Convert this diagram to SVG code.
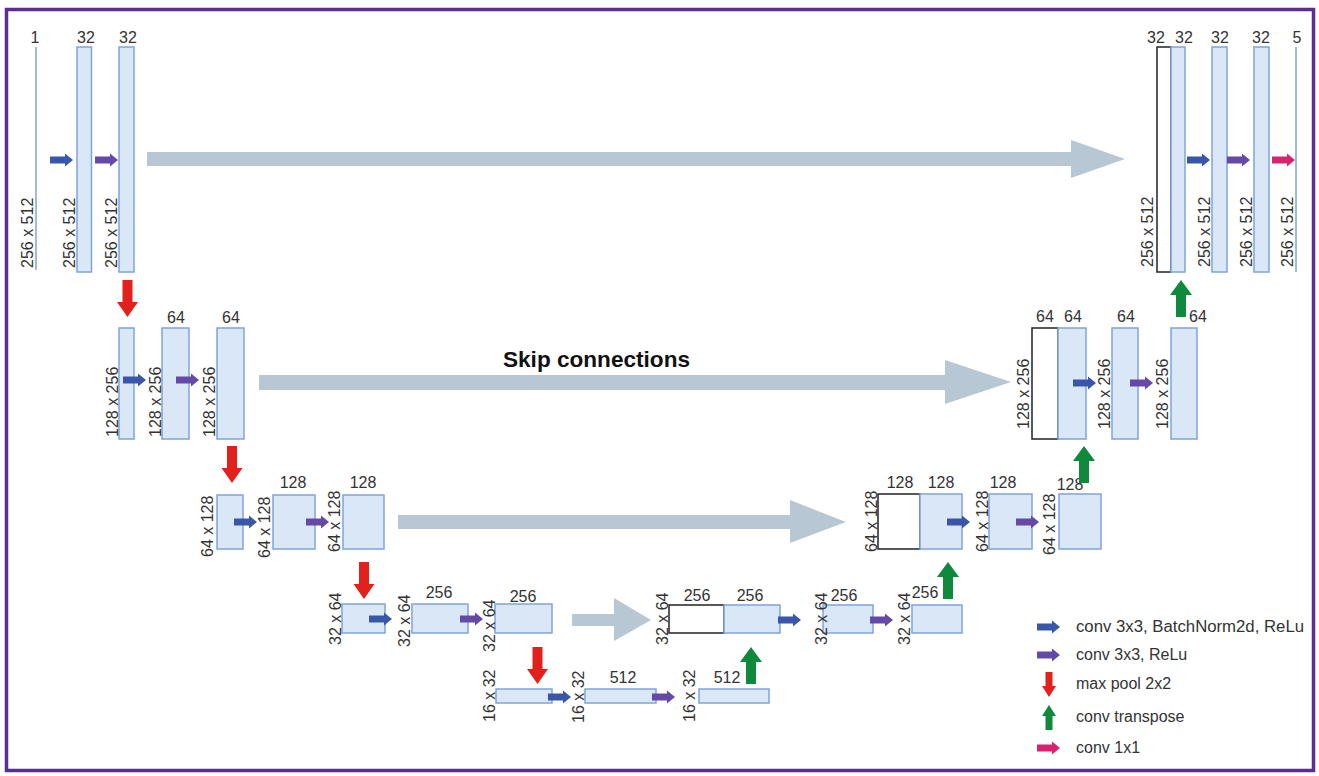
<svg xmlns="http://www.w3.org/2000/svg" xmlns:xlink="http://www.w3.org/1999/xlink" width="1319" height="776" viewBox="0 0 1319 776">
<style>
.t{font-family:"Liberation Sans",Arial,sans-serif;font-size:16px;fill:#333}
.m{text-anchor:middle}
.b{fill:#dae7f6;stroke:#7fa4d9;stroke-width:1.5}
.k{fill:#fff;stroke:#222;stroke-width:1.5}
.ln{stroke:#7fa4d9;stroke-width:1.5;fill:none}
.skip{fill:#b8c7d4}
.lg{font-family:"Liberation Sans",Arial,sans-serif;font-size:16px;fill:#333}
</style>
<defs>
<path id="ah" d="M0,-3.5 H15 V-6.5 L23,0 L15,6.5 V3.5 H0 Z"/>
<path id="ad" d="M-5,0 H5 V22 H10.5 L0,37 L-10.5,22 H-5 Z" fill="#e2211c"/>
<path id="au" d="M0,0 L11,15 H5 V37 H-5 V15 H-11 Z" fill="#0f8a3c"/>
</defs>
<rect x="6.5" y="9.5" width="1307" height="761" fill="#fff" stroke="#5b2d8e" stroke-width="3.5"/>

<g id="enc1">
<line class="ln" x1="36" y1="47" x2="36" y2="270"/>
<rect class="b" x="77" y="47" width="14.5" height="225"/>
<rect class="b" x="119" y="47" width="15" height="225"/>
<text class="t m" x="35" y="43">1</text>
<text class="t m" x="86" y="43">32</text>
<text class="t m" x="128" y="43">32</text>
<text class="t" transform="translate(33,268) rotate(-90)">256 x 512</text>
<text class="t" transform="translate(75,268) rotate(-90)">256 x 512</text>
<text class="t" transform="translate(117,268) rotate(-90)">256 x 512</text>
</g>

<g id="enc2">
<rect class="b" x="119" y="328" width="15" height="111"/>
<rect class="b" x="162" y="328" width="27" height="111"/>
<rect class="b" x="217" y="328" width="27" height="111"/>
<text class="t m" x="176" y="323">64</text>
<text class="t m" x="231" y="323">64</text>
<text class="t" transform="translate(118,437) rotate(-90)">128 x 256</text>
<text class="t" transform="translate(161,437) rotate(-90)">128 x 256</text>
<text class="t" transform="translate(215,437) rotate(-90)">128 x 256</text>
</g>

<g id="enc3">
<rect class="b" x="217" y="495" width="26" height="54"/>
<rect class="b" x="273" y="495" width="42" height="54"/>
<rect class="b" x="343" y="495" width="41" height="54"/>
<text class="t m" x="293" y="488">128</text>
<text class="t m" x="363" y="488">128</text>
<text class="t" transform="translate(213,557) rotate(-90)">64 x 128</text>
<text class="t" transform="translate(270,558) rotate(-90)">64 x 128</text>
<text class="t" transform="translate(340,552) rotate(-90)">64 x 128</text>
</g>

<g id="enc4">
<rect class="b" x="342" y="604" width="43" height="29"/>
<rect class="b" x="412" y="604" width="56" height="29"/>
<rect class="b" x="495" y="604" width="57" height="29"/>
<text class="t m" x="439" y="598">256</text>
<text class="t m" x="523" y="602">256</text>
<text class="t" transform="translate(341,645) rotate(-90)">32 x 64</text>
<text class="t" transform="translate(410,647) rotate(-90)">32 x 64</text>
<text class="t" transform="translate(495,652) rotate(-90)">32 x 64</text>
</g>

<g id="bottleneck">
<rect class="b" x="496" y="689" width="56" height="14"/>
<rect class="b" x="585" y="689" width="71" height="14"/>
<rect class="b" x="699" y="689" width="70" height="14"/>
<text class="t m" x="623" y="683">512</text>
<text class="t m" x="727" y="683">512</text>
<text class="t" transform="translate(495,722) rotate(-90)">16 x 32</text>
<text class="t" transform="translate(584,723) rotate(-90)">16 x 32</text>
<text class="t" transform="translate(695,722) rotate(-90)">16 x 32</text>
</g>

<g id="dec4">
<rect class="k" x="669" y="605" width="55" height="28"/>
<rect class="b" x="724" y="605" width="56" height="28"/>
<rect class="b" x="823" y="605" width="50" height="28"/>
<rect class="b" x="912" y="605" width="50" height="28"/>
<text class="t m" x="697" y="601">256</text>
<text class="t m" x="750" y="601">256</text>
<text class="t m" x="844" y="601">256</text>
<text class="t m" x="925" y="598">256</text>
<text class="t" transform="translate(668,645) rotate(-90)">32 x 64</text>
<text class="t" transform="translate(827,645) rotate(-90)">32 x 64</text>
<text class="t" transform="translate(910,645) rotate(-90)">32 x 64</text>
</g>

<g id="dec3">
<rect class="k" x="878" y="494" width="42" height="55"/>
<rect class="b" x="920" y="494" width="42" height="55"/>
<rect class="b" x="989" y="494" width="43" height="55"/>
<rect class="b" x="1059" y="494" width="42" height="55"/>
<text class="t m" x="900" y="488">128</text>
<text class="t m" x="941" y="488">128</text>
<text class="t m" x="1003" y="488">128</text>
<text class="t m" x="1070" y="490">128</text>
<text class="t" transform="translate(877,552) rotate(-90)">64 x 128</text>
<text class="t" transform="translate(988,552) rotate(-90)">64 x 128</text>
<text class="t" transform="translate(1055,555) rotate(-90)">64 x 128</text>
</g>

<g id="dec2">
<rect class="k" x="1032" y="328" width="26" height="111"/>
<rect class="b" x="1058" y="328" width="28" height="111"/>
<rect class="b" x="1112" y="328" width="26" height="111"/>
<rect class="b" x="1171" y="328" width="26" height="111"/>
<text class="t m" x="1045" y="322">64</text>
<text class="t m" x="1073" y="322">64</text>
<text class="t m" x="1126" y="322">64</text>
<text class="t m" x="1198" y="322">64</text>
<text class="t" transform="translate(1029,429) rotate(-90)">128 x 256</text>
<text class="t" transform="translate(1110,429) rotate(-90)">128 x 256</text>
<text class="t" transform="translate(1168,429) rotate(-90)">128 x 256</text>
</g>

<g id="dec1">
<rect class="k" x="1157" y="47" width="14" height="225"/>
<rect class="b" x="1171" y="47" width="14" height="225"/>
<rect class="b" x="1212" y="47" width="15" height="225"/>
<rect class="b" x="1254" y="47" width="15" height="225"/>
<line class="ln" x1="1296" y1="47" x2="1296" y2="272"/>
<text class="t m" x="1156" y="43">32</text>
<text class="t m" x="1184" y="43">32</text>
<text class="t m" x="1220" y="43">32</text>
<text class="t m" x="1261" y="43">32</text>
<text class="t m" x="1297" y="43">5</text>
<text class="t" transform="translate(1153,267) rotate(-90)">256 x 512</text>
<text class="t" transform="translate(1210,267) rotate(-90)">256 x 512</text>
<text class="t" transform="translate(1252,267) rotate(-90)">256 x 512</text>
<text class="t" transform="translate(1293,267) rotate(-90)">256 x 512</text>
</g>

<g id="connectors">
<polygon class="skip" points="147,152 1071,152 1071,140 1125,159 1071,178 1071,166 147,166"/>
<polygon class="skip" points="259,375 945,375 945,360 1011,382 945,404 945,390 259,390"/>
<polygon class="skip" points="398,515 790,515 790,500 846,522 790,543 790,529 398,529"/>
<polygon class="skip" points="572,614 614,614 614,598 651,620 614,641 614,626 572,626"/>
<use xlink:href="#ah" x="50" y="160" fill="#3a56a8"/>
<use xlink:href="#ah" x="95" y="160" fill="#6549a6"/>
<use xlink:href="#ah" x="1187" y="160" fill="#3a56a8"/>
<use xlink:href="#ah" x="1227" y="160" fill="#6549a6"/>
<use xlink:href="#ah" x="1272" y="160" fill="#d7246f"/>
<use xlink:href="#ah" x="123" y="380" fill="#3a56a8"/>
<use xlink:href="#ah" x="176" y="380" fill="#6549a6"/>
<use xlink:href="#ah" x="1073" y="383" fill="#3a56a8"/>
<use xlink:href="#ah" x="1130" y="383" fill="#6549a6"/>
<use xlink:href="#ah" x="234" y="522" fill="#3a56a8"/>
<use xlink:href="#ah" x="306" y="522" fill="#6549a6"/>
<use xlink:href="#ah" x="947" y="522" fill="#3a56a8"/>
<use xlink:href="#ah" x="1016" y="522" fill="#6549a6"/>
<use xlink:href="#ah" x="369" y="619" fill="#3a56a8"/>
<use xlink:href="#ah" x="460" y="619" fill="#6549a6"/>
<use xlink:href="#ah" x="778" y="620" fill="#3a56a8"/>
<use xlink:href="#ah" x="870" y="620" fill="#6549a6"/>
<use xlink:href="#ah" x="548" y="697" fill="#3a56a8"/>
<use xlink:href="#ah" x="652" y="697" fill="#6549a6"/>
<use xlink:href="#ad" x="127.5" y="280"/>
<use xlink:href="#ad" x="232" y="446"/>
<use xlink:href="#ad" x="364" y="562"/>
<use xlink:href="#ad" x="537.5" y="647"/>
<use xlink:href="#au" x="751" y="647"/>
<use xlink:href="#au" x="948" y="562"/>
<use xlink:href="#au" x="1084" y="446"/>
<use xlink:href="#au" x="1181" y="280"/>
</g>

<g id="title">
<text x="503" y="367" textLength="187" lengthAdjust="spacingAndGlyphs" style="font-family:'Liberation Sans',Arial,sans-serif;font-size:22px;font-weight:bold;fill:#111">Skip connections</text>
</g>

<g id="legend">
<use xlink:href="#ah" x="1037" y="627" fill="#3a56a8"/>
<use xlink:href="#ah" x="1037" y="655" fill="#6549a6"/>
<path d="M1045.5,672 H1052.5 V686 H1056 L1049,697 L1042,686 H1045.5 Z" fill="#e2211c"/>
<path d="M1049,705 L1056,716 H1052.5 V730 H1045.5 V716 H1042 Z" fill="#0f8a3c"/>
<use xlink:href="#ah" x="1037" y="748" fill="#d7246f"/>
<text class="lg" x="1076" y="632" textLength="228" lengthAdjust="spacingAndGlyphs">conv 3x3, BatchNorm2d, ReLu</text>
<text class="lg" x="1076" y="660">conv 3x3, ReLu</text>
<text class="lg" x="1076" y="689">max pool 2x2</text>
<text class="lg" x="1076" y="722">conv transpose</text>
<text class="lg" x="1076" y="753">conv 1x1</text>
</g>
</svg>
